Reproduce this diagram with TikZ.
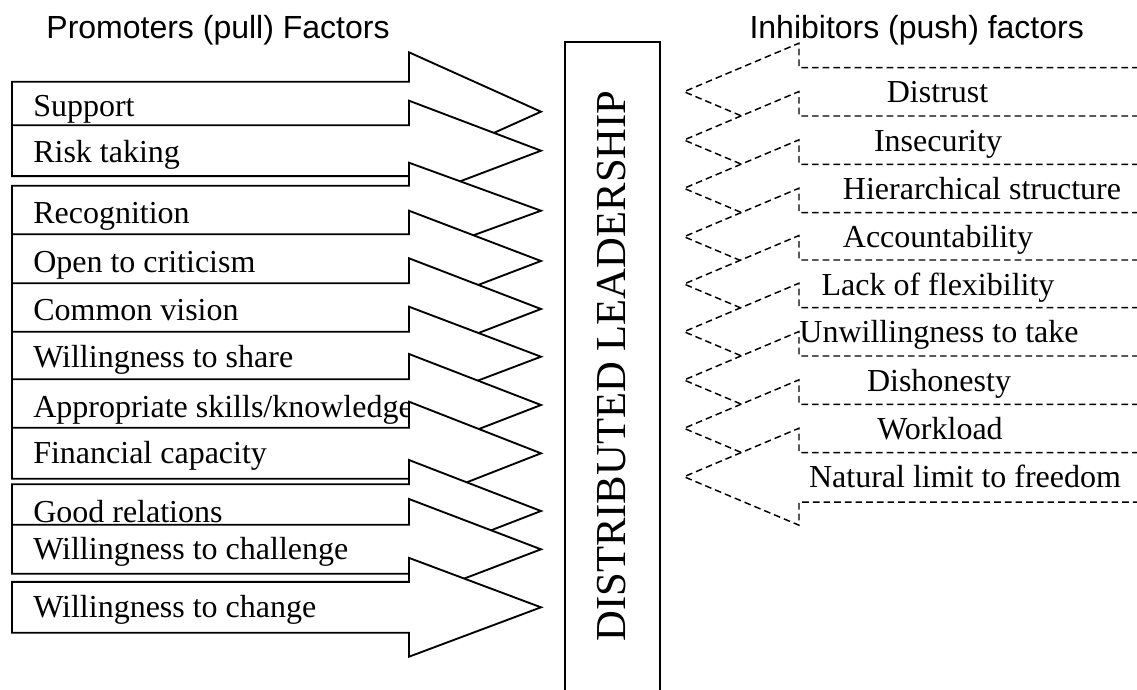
\documentclass[tikz,border=0pt]{standalone}
\usepackage{fontspec}
\setmainfont{Liberation Serif}
\newfontfamily\headfont{Liberation Sans}

\begin{document}
\begin{tikzpicture}[x=0.75pt,y=-0.75pt,
    pullarrow/.style={draw=black,fill=white,line width=1.4pt},
    pusharrow/.style={draw=black,fill=white,line width=1.1pt,dash pattern=on 5pt off 3pt},
    factortext/.style={font=\fontsize{24}{28}\selectfont,inner sep=0pt},
    headtext/.style={font=\headfont\fontsize{24}{28}\selectfont,inner sep=0pt,anchor=base}]
\clip (0,0) rectangle (1137,689);

% Headings
\node[headtext] (pullhead) at (218,38.5) {Promoters (pull) Factors};
\node[headtext] (pushhead) at (916.7,38.5) {Inhibitors (push) factors};

% Central box
\draw[line width=1.4pt] (565,700) -- (565,42.3) -- (660,42.3) -- (660,700);
\node[font=\fontsize{32}{38}\selectfont,inner sep=0pt,rotate=90] (core) at (612,366) {DISTRIBUTED LEADERSHIP};

% Promoters: solid block arrows, each one laid over the one before
\foreach \tip/\bh/\hh/\ty/\txt [count=\i] in {
    111.7/30/59.4/105/Support,
    150.7/25.4/50/151/Risk taking,
    210.7/25/48/212/Recognition,
    261/26.7/50.3/261/Open to criticism,
    309/25.7/50.7/309/Common vision,
    356.7/25/50/356/Willingness to share,
    405/25.7/51/406/{Appropriate skills/knowledge},
    453.3/25.5/51.6/452/Financial capacity,
    511/26.7/51/511/Good relations,
    549.3/24.5/50.3/548/Willingness to challenge,
    607.3/25.4/49.4/606/Willingness to change} {
    \draw[pullarrow] (12,\tip-\bh) -- (409,\tip-\bh) -- (409,\tip-\hh) -- (541,\tip)
        -- (409,\tip+\hh) -- (409,\tip+\bh) -- (12,\tip+\bh) -- cycle;
    \node[factortext,anchor=base west] (pull\i) at (33,\ty+11) {\txt};
}

% Inhibitors: dashed block arrows pointing back
\foreach \tip/\cx/\txt [count=\i] in {
    91.7/937.5/Distrust,
    140/938/Insecurity,
    188.3/982/Hierarchical structure,
    236.7/938/Accountability,
    284/938/Lack of flexibility,
    331.7/939/Unwillingness to take,
    380/939/Dishonesty,
    428.3/940/Workload,
    476.7/965/Natural limit to freedom} {
    \draw[pusharrow] (1160,\tip-24) -- (799,\tip-24) -- (799,\tip-48.5) -- (684,\tip)
        -- (799,\tip+48.5) -- (799,\tip+25.5) -- (1160,\tip+25.5) -- cycle;
    \node[factortext,anchor=base] (push\i) at (\cx,\tip+11) {\txt};
}
\end{tikzpicture}
\end{document}
